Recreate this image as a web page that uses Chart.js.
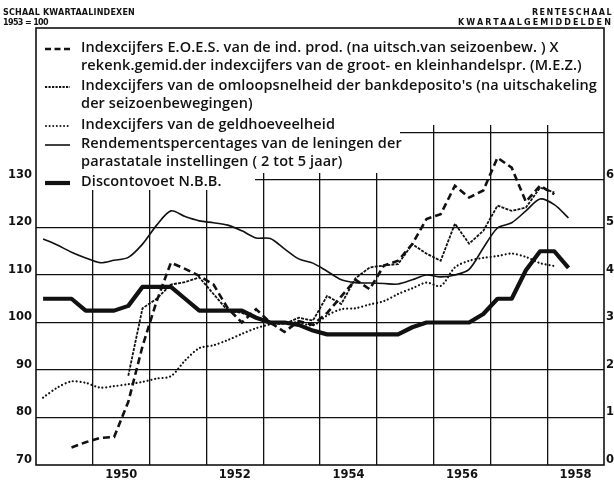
<!DOCTYPE html>
<html><head><meta charset="utf-8">
<script src="https://cdn.jsdelivr.net/npm/chart.js@4.4.1/dist/chart.umd.min.js"></script>
<style>
html,body{margin:0;padding:0;background:#fff;}
#wrap{position:relative;width:614px;height:483px;overflow:hidden;background:#fff;}
canvas{position:absolute;left:0;top:0;}
.hdr{position:absolute;font-family:"DejaVu Sans";font-weight:bold;font-size:8px;color:#111;white-space:nowrap;line-height:1;}
.lg{position:absolute;left:81px;font-family:"Open Sans";font-weight:600;font-size:14.5px;color:#111;white-space:nowrap;line-height:1;transform:translateY(-50%);}
.smp{position:absolute;left:44px;width:27px;height:8px;transform:translateY(-50%);}
</style></head>
<body>
<div id="wrap">
<canvas id="c" width="614" height="483"></canvas>
<div class="hdr" id="h1" style="left:3px;top:9px;">SCHAAL KWARTAALINDEXEN</div>
<div class="hdr" id="h2" style="left:3px;top:19px;">1953 = 100</div>
<div class="hdr" id="h3" style="right:1px;top:9px;">RENTESCHAAL</div>
<div class="hdr" id="h4" style="right:1px;top:19px;">KWARTAALGEMIDDELDEN</div>

<svg class="smp" style="top:48px" viewBox="0 0 27 8"><line x1="1" y1="5" x2="26" y2="5" stroke="#111" stroke-width="2.6" stroke-dasharray="6,3.5"/></svg>
<div class="lg" style="top:47px">Indexcijfers E.O.E.S. van de ind. prod. (na uitsch.van seizoenbew. ) X</div>
<div class="lg" style="top:65px">rekenk.gemid.der indexcijfers van de groot- en kleinhandelspr. (M.E.Z.)</div>

<svg class="smp" style="top:86px" viewBox="0 0 27 8"><line x1="1" y1="5" x2="26" y2="5" stroke="#111" stroke-width="2" stroke-dasharray="2.2,1.3"/></svg>
<div class="lg" id="widest" style="top:85px">Indexcijfers van de omloopsnelheid der bankdeposito's (na uitschakeling</div>
<div class="lg" style="top:103px">der seizoenbewegingen)</div>

<svg class="smp" style="top:125px" viewBox="0 0 27 8"><line x1="2" y1="5" x2="26" y2="5" stroke="#111" stroke-width="2" stroke-linecap="round" stroke-dasharray="0.01,3.6"/></svg>
<div class="lg" style="top:124px">Indexcijfers van de geldhoeveelheid</div>

<svg class="smp" style="top:144px" viewBox="0 0 27 8"><line x1="1" y1="5" x2="26" y2="5" stroke="#111" stroke-width="1.6"/></svg>
<div class="lg" style="top:143px">Rendementspercentages van de leningen der</div>
<div class="lg" style="top:161px">parastatale instellingen ( 2 tot 5 jaar)</div>

<svg class="smp" style="top:182px" viewBox="0 0 27 8"><line x1="1" y1="5" x2="26" y2="5" stroke="#111" stroke-width="4.2"/></svg>
<div class="lg" style="top:181px">Discontovoet N.B.B.</div>
</div>
<script>
const quarters = [
 '1949 I','1949 II','1949 III','1949 IV',
 '1950 I','1950 II','1950 III','1950 IV',
 '1951 I','1951 II','1951 III','1951 IV',
 '1952 I','1952 II','1952 III','1952 IV',
 '1953 I','1953 II','1953 III','1953 IV',
 '1954 I','1954 II','1954 III','1954 IV',
 '1955 I','1955 II','1955 III','1955 IV',
 '1956 I','1956 II','1956 III','1956 IV',
 '1957 I','1957 II','1957 III','1957 IV',
 '1958 I','1958 II'
];
// Indexcijfers E.O.E.S. x prijzen (1953 = 100)
const eoes = [
 null, null, 73.7, 74.8,
 75.7, 75.9, 83.3, 95.0,
 104.5, 112.6, 111.3, 109.8,
 108.0, 103.0, 100.0, 102.8,
 100.0, 98.0, 100.3, 99.5,
 102.0, 105.5, 109.0, 107.0,
 112.0, 113.0, 116.5, 121.8,
 122.8, 128.8, 126.3, 127.8,
 134.7, 132.6, 125.4, 128.8,
 127.0, null
];
// Omloopsnelheid bankdeposito's (1953 = 100)
const omloop = [
 null, null, null, null,
 null, null, 88.8, 103.0,
 105.0, 108.0, 108.5, 109.5,
 106.0, 102.5, 102.0, 101.0,
 99.7, 99.7, 101.0, 100.4,
 105.6, 103.9, 109.3, 111.6,
 112.0, 112.3, 116.5, 114.5,
 113.0, 120.8, 116.6, 119.3,
 124.6, 123.5, 124.2, 128.4,
 127.4, null
];
// Geldhoeveelheid (1953 = 100)
const geld = [
 84.2, 86.3, 87.6, 87.3,
 86.3, 86.6, 87.0, 87.5,
 88.2, 88.7, 92.0, 94.6,
 95.2, 96.3, 97.6, 98.8,
 99.6, 100.0, 100.0, 99.4,
 101.5, 102.8, 103.0, 103.8,
 104.5, 106.0, 107.2, 108.4,
 107.7, 111.6, 113.0, 113.6,
 114.0, 114.5, 113.8, 112.5,
 111.9, null
];
// Rendementspercentages parastatale leningen (%)
const rendement = [
 4.76, 4.63, 4.48, 4.36,
 4.26, 4.31, 4.37, 4.65,
 5.05, 5.35, 5.23, 5.14,
 5.10, 5.05, 4.93, 4.78,
 4.77, 4.55, 4.34, 4.25,
 4.08, 3.90, 3.84, 3.83,
 3.82, 3.81, 3.90, 4.00,
 3.96, 4.00, 4.12, 4.57,
 4.99, 5.10, 5.35, 5.60,
 5.48, 5.20
];
// Discontovoet N.B.B. (%)
const disconto = [
 3.50, 3.50, 3.50, 3.25,
 3.25, 3.25, 3.35, 3.75,
 3.75, 3.75, 3.50, 3.25,
 3.25, 3.25, 3.25, 3.10,
 3.00, 3.00, 2.95, 2.83,
 2.75, 2.75, 2.75, 2.75,
 2.75, 2.75, 2.90, 3.00,
 3.00, 3.00, 3.00, 3.18,
 3.50, 3.50, 4.10, 4.50,
 4.50, 4.15
];
const leftTickLabels = ['70','80','90','100','110','120','130'];
const rightTickLabels = ['0','1','2','3','4','5','6'];
const yearLabels = ['1950','1952','1954','1956','1958'];

const romans = ['I','II','III','IV'];
function toPoints(arr){
  return arr.map((v,i)=>{
    const parts = quarters[i].split(' ');
    const q = romans.indexOf(parts[1]) + 1;
    return {x: Number(parts[0]) + (q - 0.5) / 4, y: v};
  });
}

const INK = '#111';
const tickFont = {family:'"DejaVu Sans"', weight:'bold', size:11.5};

const framePlugin = {
  id:'framePlugin',
  beforeDatasetsDraw(chart){
    const c = chart.ctx;
    c.save();
    c.fillStyle = '#fff';
    c.fillRect(36, 28, 568, 97);
    c.fillRect(36, 125, 364, 48);
    c.fillRect(36, 173, 219, 17);
    c.restore();
  },
  afterDraw(chart){
    const {left, top, right, bottom} = chart.chartArea;
    const c = chart.ctx;
    c.save();
    c.strokeStyle = INK;
    c.lineWidth = 1.6;
    c.strokeRect(left, top, right - left, bottom - top);
    c.restore();
  }
};

new Chart(document.getElementById('c'), {
  type:'line',
  data:{
    datasets:[
      {label:'Discontovoet N.B.B.', data:toPoints(disconto), yAxisID:'y2', borderColor:INK, borderWidth:4.2, tension:0, borderJoinStyle:'round'},
      {label:'Indexcijfers E.O.E.S.', data:toPoints(eoes), yAxisID:'y', borderColor:INK, borderWidth:2.6, borderDash:[7,4], tension:0},
      {label:'Omloopsnelheid', data:toPoints(omloop), yAxisID:'y', borderColor:INK, borderWidth:1.8, borderDash:[3,1.2], tension:0},
      {label:'Geldhoeveelheid', data:toPoints(geld), yAxisID:'y', borderColor:INK, borderWidth:2.2, borderDash:[0.01,3.8], borderCapStyle:'round', tension:0.3},
      {label:'Rendementspercentages', data:toPoints(rendement), yAxisID:'y2', borderColor:INK, borderWidth:1.6, tension:0.3}
    ]
  },
  options:{
    responsive:false,
    animation:false,
    devicePixelRatio:1,
    layout:{padding:{top:28, left:0, right:0, bottom:0}},
    elements:{point:{radius:0}, line:{fill:false}},
    plugins:{legend:{display:false}, tooltip:{enabled:false}},
    scales:{
      x:{
        type:'linear', min:1949, max:1959,
        afterBuildTicks(s){ const t=[]; for(let v=1949; v<=1959; v+=0.5) t.push({value:v}); s.ticks=t; },
        afterFit(s){ s.height = 18; },
        border:{display:false},
        grid:{drawTicks:false, lineWidth:1.3,
          color(ctx){ const v = ctx.tick ? ctx.tick.value : 0; return (Number.isInteger(v) && v>1949 && v<1959) ? INK : 'rgba(0,0,0,0)'; }},
        ticks:{autoSkip:false, maxRotation:0, minRotation:0, padding:3, color:INK, font:tickFont,
          callback(v){ const lab = String(Math.floor(v)); return (v % 1 === 0.5 && yearLabels.includes(lab)) ? lab : ''; }}
      },
      y:{
        type:'linear', position:'left', min:70, max:162,
        afterBuildTicks(s){ const t=[]; for(let v=70; v<=140; v+=10) t.push({value:v}); s.ticks=t; },
        afterFit(s){ s.width = 36; },
        border:{display:false},
        grid:{drawTicks:false, lineWidth:1.3,
          color(ctx){ const v = ctx.tick ? ctx.tick.value : 0; return (v>70) ? INK : 'rgba(0,0,0,0)'; }},
        ticks:{padding:4, labelOffset:-5, color:INK, font:tickFont,
          callback(v){ const i = Math.round((v-70)/10); return leftTickLabels[i] ?? ''; }}
      },
      y2:{
        type:'linear', position:'right', min:0, max:9.2,
        afterBuildTicks(s){ const t=[]; for(let v=0; v<=6; v+=1) t.push({value:v}); s.ticks=t; },
        afterFit(s){ s.width = 10; },
        border:{display:false},
        grid:{display:false, drawTicks:false},
        ticks:{padding:2, labelOffset:-5, color:INK, font:tickFont,
          callback(v){ return rightTickLabels[Math.round(v)] ?? ''; }}
      }
    }
  },
  plugins:[framePlugin]
});

// letter-spaced headers fitted to their widths in the reference
function spacingFor(el, target){
  const n = el.textContent.length;
  const w = el.getBoundingClientRect().width;
  return (target - w) / n;
}
[['h1',132],['h2',45],['h3',81],['h4',155]].forEach(([id,t])=>{
  const el = document.getElementById(id);
  el.style.letterSpacing = spacingFor(el, t) + 'px';
});
// one common letter spacing for the legend, so the widest line ends where it does in the reference
const ls = spacingFor(document.getElementById('widest'), 516);
document.querySelectorAll('.lg').forEach(el=>{ el.style.letterSpacing = ls + 'px'; });
</script>
</body></html>
